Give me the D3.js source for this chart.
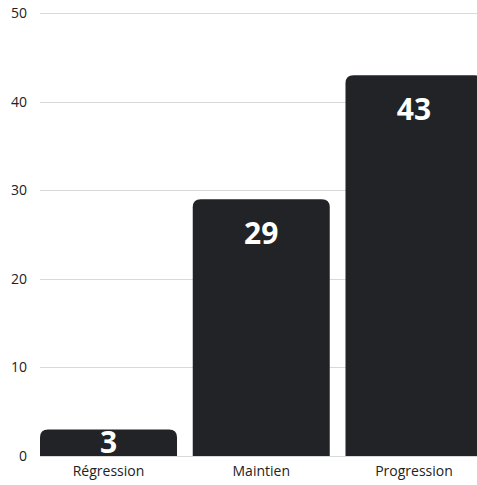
<!DOCTYPE html>
<html><head><meta charset="utf-8">
<script src="https://cdn.jsdelivr.net/npm/d3@7"></script>
<style>
html,body{margin:0;padding:0;background:#fff;}
svg{display:block;}
text{font-family:"Open Sans",sans-serif;}
</style></head>
<body><svg id="c" width="477" height="485"></svg>
<script>
const categories = ["Régression", "Maintien", "Progression"];
const values = [3, 29, 43];
const yTicks = [0, 10, 20, 30, 40, 50];

const W = 477, H = 485;
const svg = d3.select("#c");
const x = d3.scaleBand().domain(categories).range([40, 482.5]).paddingInner(0.103).paddingOuter(0);
const y = d3.scaleLinear().domain([0, 50]).range([456, 13.3]);

// grid
svg.append("g").selectAll("line").data(yTicks).join("line")
  .attr("x1", 40).attr("x2", 482.5)
  .attr("y1", d => Math.round(y(d)) + 0.5).attr("y2", d => Math.round(y(d)) + 0.5)
  .attr("stroke", "#d9d9d9").attr("stroke-width", 1);

// y axis labels
const yAxis = d3.axisLeft(y).tickValues(yTicks).tickSize(0).tickPadding(13);
const ga = svg.append("g").attr("transform", "translate(40,0)").call(yAxis);
ga.select(".domain").remove();
ga.selectAll("text").attr("font-size", 14).attr("fill", "#222").attr("font-family", "Open Sans, sans-serif");

// bars with rounded tops
const r = 8;
function barPath(x0, w, yt, yb) {
  const rr = Math.min(r, (yb - yt), w / 2);
  return `M${x0},${yb}V${yt + rr}Q${x0},${yt} ${x0 + rr},${yt}H${x0 + w - rr}Q${x0 + w},${yt} ${x0 + w},${yt + rr}V${yb}Z`;
}
const data = categories.map((c, i) => ({c, v: values[i]}));
svg.append("g").selectAll("path").data(data).join("path")
  .attr("d", d => barPath(x(d.c), x.bandwidth(), y(d.v), y(0)))
  .attr("fill", "#212327");

// value labels
svg.append("g").selectAll("text").data(data).join("text")
  .attr("x", d => x(d.c) + x.bandwidth() / 2)
  .attr("y", d => Math.min(y(d.v) + 45, y(0) - 3))
  .attr("text-anchor", "middle")
  .attr("font-size", 30).attr("font-weight", 700).attr("fill", "#fff")
  .text(d => d.v);

// category labels
const xAxis = d3.axisBottom(x).tickSize(0).tickPadding(0);
const gx = svg.append("g").attr("transform", "translate(0,456)").call(xAxis);
gx.select(".domain").remove();
gx.selectAll("text").attr("font-size", 14).attr("fill", "#222").attr("font-family", "Open Sans, sans-serif")
  .attr("dy", null).attr("y", 20);
</script></body></html>
